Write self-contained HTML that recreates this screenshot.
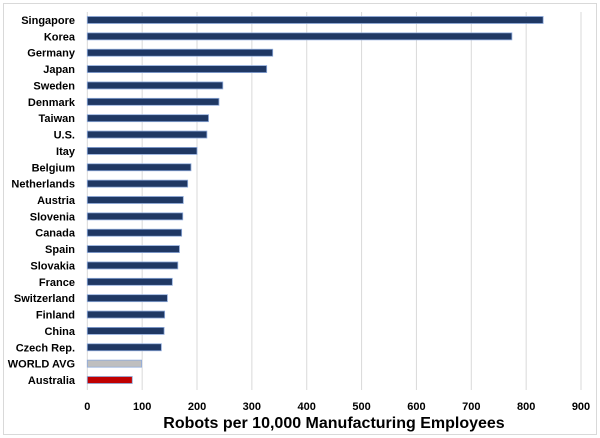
<!DOCTYPE html>
<html><head><meta charset="utf-8"><style>
body{margin:0;background:#fff;}
svg{display:block;font-family:"Liberation Sans",Arial,sans-serif;}
</style></head><body>
<svg width="600" height="438">
<rect x="3.5" y="3.5" width="593" height="431" fill="#fff" stroke="#d9d9d9"/>
<g id="grid"></g><g id="bars"></g><g id="labels"></g><g id="ticks"></g>
<text x="334" y="428" text-anchor="middle" font-size="16" font-weight="bold" fill="#000">Robots per 10,000 Manufacturing Employees</text>
</svg>
<script>
const countries=["Singapore","Korea","Germany","Japan","Sweden","Denmark","Taiwan","U.S.","Itay","Belgium","Netherlands","Austria","Slovenia","Canada","Spain","Slovakia","France","Switzerland","Finland","China","Czech Rep.","WORLD AVG","Australia"];
const values=[831,774,338,327,247,240,221,218,200,189,183,175,174,172,168,165,155,146,141,140,135,99,82];
const tickValues=[0,100,200,300,400,500,600,700,800,900];
const ns="http://www.w3.org/2000/svg";
const x0=87.3,x1=581,yTop=20,step=(380-20)/(countries.length-1);
const xs=v=>x0+(v/900)*(x1-x0);
const ys=i=>yTop+i*step;
function mk(t,a,p){const e=document.createElementNS(ns,t);for(const k in a)e.setAttribute(k,a[k]);p.appendChild(e);return e;}
const g=document.getElementById('grid'),b=document.getElementById('bars'),l=document.getElementById('labels'),tk=document.getElementById('ticks');
tickValues.forEach(v=>{
 const ln=mk('line',{x1:xs(v),x2:xs(v),y1:12,y2:390,stroke:'#d9d9d9','stroke-width':1},g);
 
 
 const t=mk('text',{x:xs(v),y:410,'text-anchor':'middle','font-size':11,'font-weight':'bold',fill:'#000'},tk);
 t.textContent=v;
 
 
});
countries.forEach((c,i)=>{
 const fill=c==="WORLD AVG"?'#bfbfbf':(c==="Australia"?'#c00000':'#1f3864');
 const r=mk('rect',{x:x0,y:ys(i)-3.5,width:xs(values[i])-x0,height:7,fill:fill,stroke:'#8eaadb','stroke-width':0.8},b);
 
 
 const t=mk('text',{x:75,y:ys(i)+4,'text-anchor':'end','font-size':11,'font-weight':'bold',fill:'#000'},l);
 t.textContent=c;
 
 
});
</script>
</body></html>
